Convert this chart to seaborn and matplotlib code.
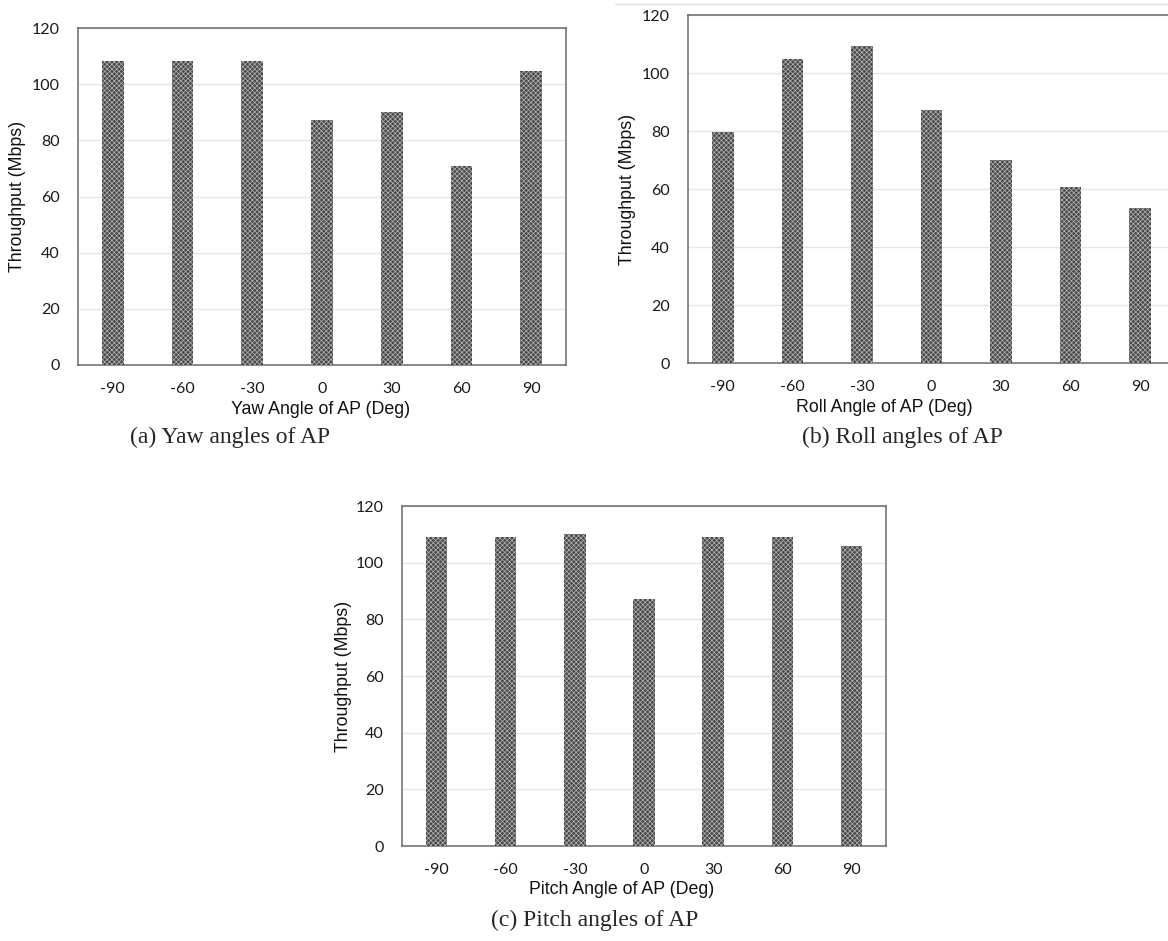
import matplotlib
matplotlib.use("Agg")
import matplotlib.pyplot as plt
import seaborn as sns
import pandas as pd
from matplotlib.lines import Line2D

sns.set_style("white")
plt.rcParams['font.family'] = ['Liberation Sans', 'DejaVu Sans']
plt.rcParams['hatch.linewidth'] = 0.5

# data
angles = ['-90', '-60', '-30', '0', '30', '60', '90']
yaw_tput = [108.2, 108.1, 108.2, 87.3, 90.0, 71.0, 104.6]
roll_tput = [79.8, 104.8, 109.4, 87.2, 70.1, 60.7, 53.5]
pitch_tput = [109.2, 109.2, 110.1, 87.3, 109.2, 109.2, 105.8]

xlabels = ['Yaw Angle of AP (Deg)', 'Roll Angle of AP (Deg)', 'Pitch Angle of AP (Deg)']
captions = ['(a) Yaw angles of AP', '(b) Roll angles of AP', '(c) Pitch angles of AP']
yticks = [0, 20, 40, 60, 80, 100, 120]

W, H = 1168, 941
fig = plt.figure(figsize=(W / 100, H / 100), dpi=100)

# axes boxes in pixels: left, top, right, bottom
boxes = [(78, 28, 566, 365), (688, 15, 1175, 363), (402, 506, 886, 846)]
ylab_x = [18, 627, 343]
xlab_cx = [321, 884, 622]


def draw_panel(box, vals, xlabel, ylx, cx):
    l, t, r, b = box
    ax = fig.add_axes([l / W, 1 - b / H, (r - l) / W, (b - t) / H])
    df = pd.DataFrame({'angle': angles, 'tput': vals})
    sns.barplot(data=df, x='angle', y='tput', order=angles, ax=ax, width=0.31,
                color='#4a4a4a', saturation=1, edgecolor='#b4b4b4',
                linewidth=0, hatch='xxxxxxx', zorder=3)
    ax.set_ylim(0, 120)
    ax.set_yticks(yticks)
    ax.set_xlim(-0.5, len(angles) - 0.5)
    ax.yaxis.grid(True, color='#e6e6e6', linewidth=1, zorder=0)
    ax.set_axisbelow(True)
    for s in ax.spines.values():
        s.set_color('#6a6a6a')
        s.set_linewidth(1.1)
    ax.tick_params(axis='both', length=0, labelsize=11.5, colors='#1a1a1a')
    ax.tick_params(axis='x', pad=12)
    ax.tick_params(axis='y', pad=13)
    for lab in ax.get_xticklabels() + ax.get_yticklabels():
        lab.set_family(['Lato', 'DejaVu Sans'])
    ax.set_xlabel(xlabel, fontsize=12.8, color='#111111')
    ax.set_ylabel('Throughput (Mbps)', fontsize=12.8, color='#111111')
    # place labels where they sit in the reference
    ax.xaxis.set_label_coords((cx - l) / (r - l), -44 / (b - t))
    ax.xaxis.label.set_verticalalignment('center')
    ax.yaxis.set_label_coords((ylx - l) / (r - l), 0.5)
    ax.yaxis.label.set_verticalalignment('center')
    return ax


for box, vals, xl, ylx, cx in zip(boxes, [yaw_tput, roll_tput, pitch_tput], xlabels, ylab_x, xlab_cx):
    draw_panel(box, vals, xl, ylx, cx)

# captions
cap_pos = [(230, 437), (902, 437), (595, 920)]
for (cx, cy), txt in zip(cap_pos, captions):
    fig.text(cx / W, 1 - cy / H, txt, ha='center', va='center', fontsize=17,
             family=['Liberation Serif', 'DejaVu Serif'])

# faint crop border above panel (b)
fig.add_artist(Line2D([615 / W, 1.0], [1 - 4 / H, 1 - 4 / H], color='#e2e2e2', linewidth=1))

fig.savefig('out.png', dpi=100)
